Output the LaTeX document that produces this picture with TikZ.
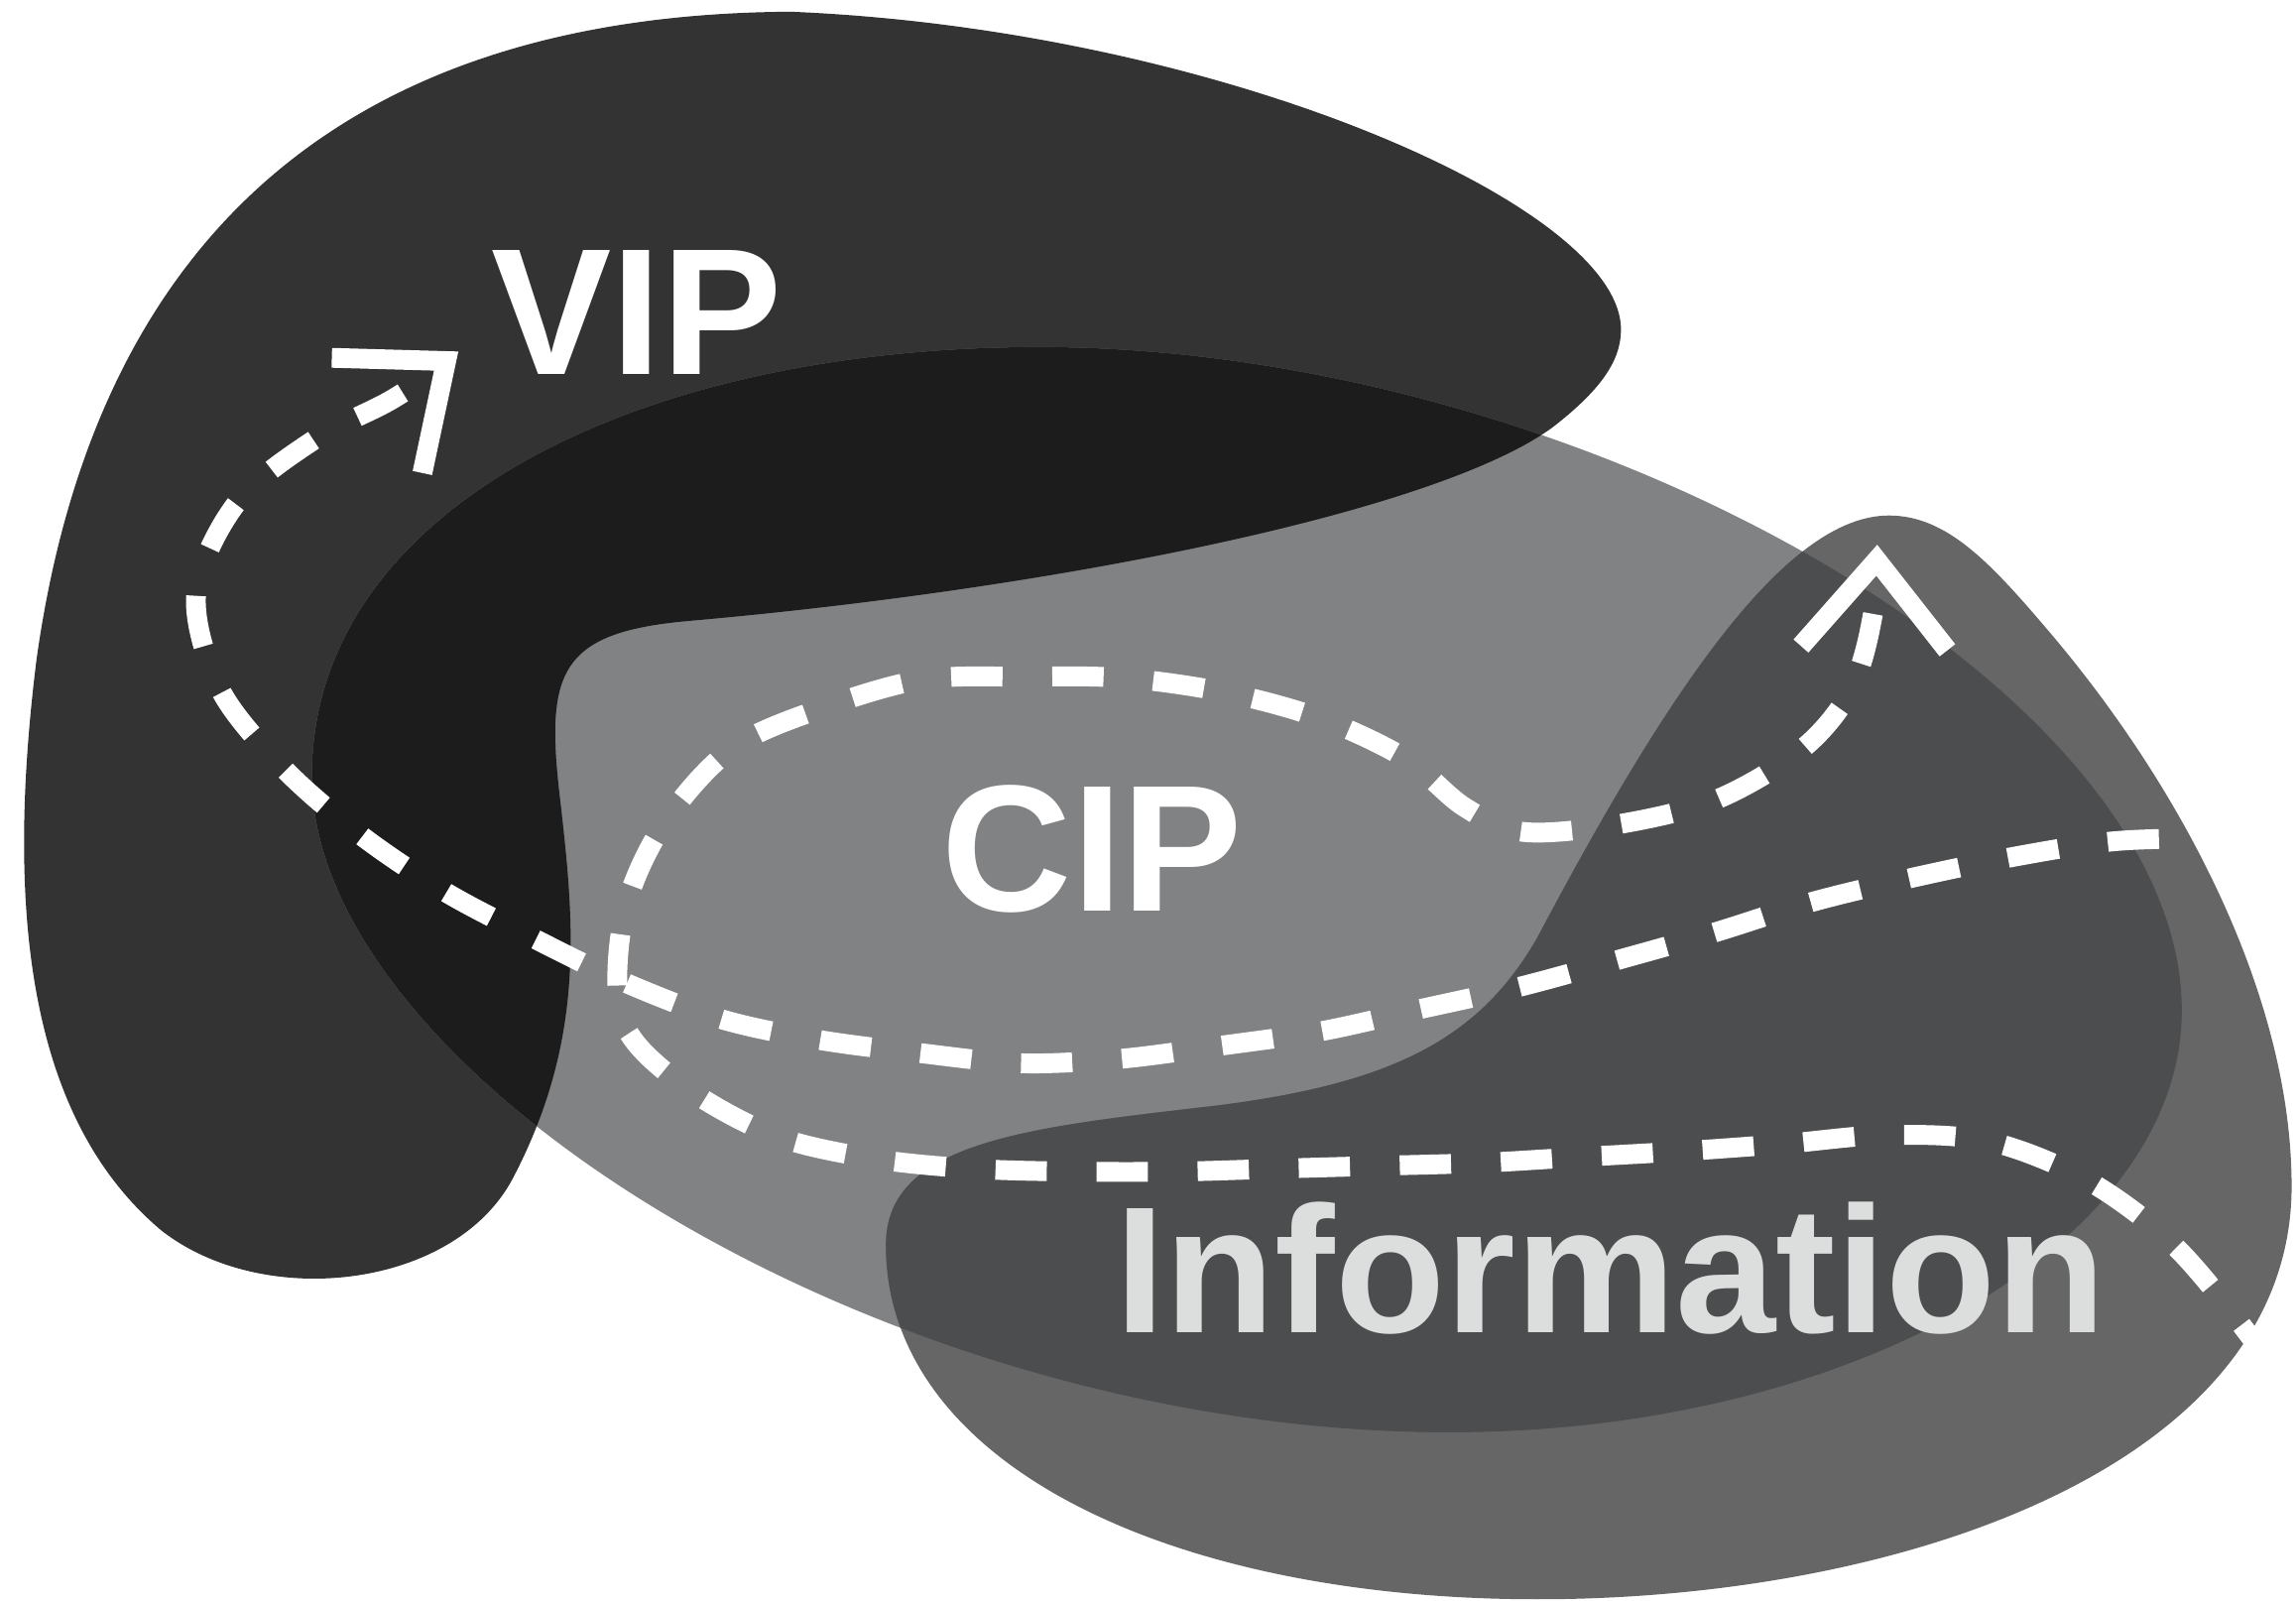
\documentclass[tikz,border=0pt]{standalone}
\usepackage{fontspec}
\setmainfont{Liberation Sans}
\newfontfamily\lblfont{Liberation Sans Bold}
\usetikzlibrary{arrows.meta}
\definecolor{vipc}{HTML}{333333}
\definecolor{cipc}{HTML}{818284}
\definecolor{infoc}{HTML}{666666}
\definecolor{vipcip}{HTML}{1B1C1B}
\definecolor{cipinfo}{HTML}{4C4D4F}
\definecolor{infotext}{HTML}{DCDDDD}
\newcommand\vipblob{(1107,225) .. controls (1107,140) and (830,20) .. (540,8) .. controls (200,10) and (60,200) .. (25,450) .. controls (5,610) and (15,760) .. (110,840) .. controls (180,895) and (310,880) .. (350,805) .. controls (400,710) and (392,630) .. (383,550) .. controls (372,460) and (380,432) .. (470,424) .. controls (720,402) and (980,350) .. (1060,292) .. controls (1095,265) and (1107,245) .. (1107,225) -- cycle}
\newcommand\cipblob{(213,530) .. controls (213,350) and (430,237) .. (710,237) .. controls (1080,237) and (1490,470) .. (1490,690) .. controls (1490,848) and (1265,978) .. (990,978) .. controls (600,978) and (213,732) .. (213,530) -- cycle}
\newcommand\infoblob{(1290,352) .. controls (1330,352) and (1360,385) .. (1400,432) .. controls (1490,538) and (1565,680) .. (1565,810) .. controls (1565,1000) and (1300,1092) .. (1050,1092) .. controls (800,1092) and (605,1000) .. (605,850) .. controls (605,780) and (700,770) .. (830,755) .. controls (950,740) and (1010,710) .. (1050,640) .. controls (1140,470) and (1220,352) .. (1290,352) -- cycle}
\tikzset{
  flow/.style={draw=white, line width=0.135cm, dash pattern=on 0.35cm off 0.34cm, dash phase=0.39cm,
    {Straight Barb[sharp, length=0.6cm, width=1.0cm]}-},
  lbl/.style={text=white, font=\lblfont\fontsize{35pt}{35pt}\selectfont, inner sep=0pt, anchor=base},
}
\begin{document}
\begin{tikzpicture}[x=0.01cm, y=-0.01cm]
\useasboundingbox (0,0) rectangle (1568,1093);
\fill[white] (0,0) rectangle (1568,1093);
% blobs
\fill[vipc] \vipblob;
\fill[cipc] \cipblob;
\begin{scope}
  \clip \vipblob;
  \fill[vipcip] \cipblob;
\end{scope}
\fill[infoc] \infoblob;
\begin{scope}
  \clip \cipblob;
  \fill[cipinfo] \infoblob;
\end{scope}
% coordinates
\coordinate (vipstart) at (1590,568);
\coordinate (viptip) at (313,240);
\coordinate (cipstart) at (1590,985);
\coordinate (ciptip) at (1282,372);
% flows (drawn from the arrow tip backwards)
\draw[flow] plot[smooth, tension=0.55] coordinates {(viptip) (269,272) (215,300) (162,343) (134,405) (150,470) (193,524) (246,570) (304,609) (365,641) (427,671) (493,696) (559,710) (628,719) (697,726) (765,723) (834,714) (903,704) (970,689) (1037,674) (1103,656) (1170,637) (1237,616) (1303,600) (1370,586) (1438,575) (1498,572) (vipstart)};
\draw[flow] plot[smooth, tension=0.55] coordinates {(ciptip) (1278,425) (1263,473) (1230,512) (1172,546) (1104,563) (1040,568) (1000,551) (960,518) (903,491) (838,473) (768,463) (698,462) (630,464) (563,483) (500,511) (453,563) (426,625) (425,696) (465,740) (528,775) (596,791) (665,798) (735,800) (803,800) (872,798) (943,796) (1012,794) (1080,790) (1150,786) (1219,781) (1288,775) (1357,779) (1422,804) (1478,844) (1524,896) (cipstart)};
% labels
\node[lbl] (vip) at (435,256) {VIP};
\node[lbl] (cip) at (746,622) {CIP};
\node[lbl, text=infotext] (info) at (1100,910) {Information};
\end{tikzpicture}
\end{document}
